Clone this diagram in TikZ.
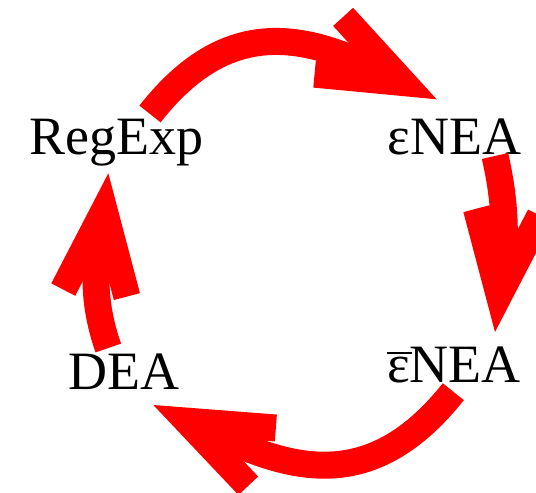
\documentclass[tikz,border=0pt]{standalone}
\usepackage{fontspec}
\setmainfont{Liberation Serif}
\usetikzlibrary{arrows.meta}
\tikzset{
    state/.style={inner sep=0pt, anchor=base, font=\fontsize{54}{60}\selectfont},
    flow/.style={line width=27pt, red, -{Straight Barb[length=83pt, width=64pt]}}
}
\begin{document}
\begin{tikzpicture}[x=1pt, y=1pt]
        	\useasboundingbox (0,0) rectangle (536,493);
        	% Zustaende im Kreis
        	\node (regexp) [state] at (116,338) {RegExp};
        	\node (enea) [state] at (454.5,338) {εNEA};
        	\node (ebarnea) [state] at (454,110.3) {\rlap{\rule[28.3pt]{25pt}{2pt}}εNEA};
        	\node (dea) [state] at (124,103.7) {DEA};
        	
        	\draw[flow] ([shift={(34,41)}]regexp.base) to[out=52, in=153.5, looseness=1.2] ([shift={(-17.8,55.7)}]enea.base);
        	\draw[flow] ([shift={(40.5,-1)}]enea.base) to[out=-77, in=83.7] ([shift={(41,50.7)}]ebarnea.base);
        	\draw[flow] ([shift={(-0.7,-9)}]ebarnea.base) to[out=231.5, in=-25.5, looseness=1.2] ([shift={(29.3,-15.7)}]dea.base);
        	\draw[flow] ([shift={(-15.7,41.3)}]dea.base) to[out=109.4, in=263.7] ([shift={(-7.7,-18.3)}]regexp.base);
        \end{tikzpicture}
\end{document}
